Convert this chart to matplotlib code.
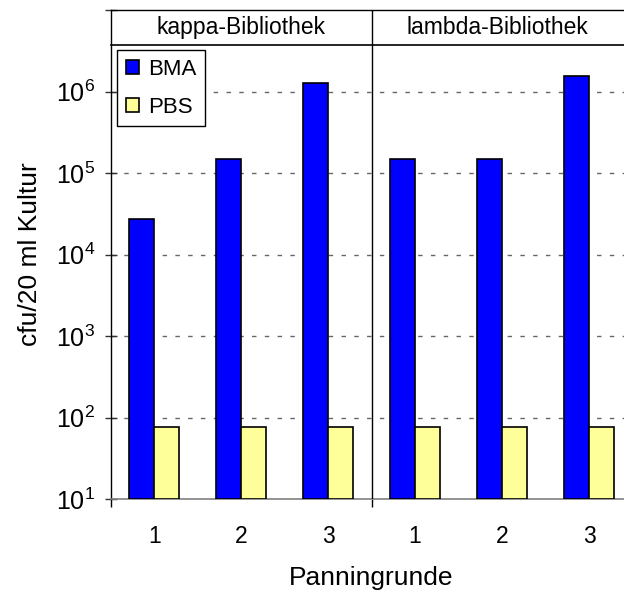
import matplotlib
matplotlib.use("Agg")
import matplotlib.pyplot as plt
import numpy as np
from matplotlib.ticker import FixedLocator, FixedFormatter, NullLocator

plt.rcParams['font.family'] = ['Liberation Sans', 'DejaVu Sans']
plt.rcParams['mathtext.fontset'] = 'custom'
plt.rcParams['mathtext.rm'] = 'Liberation Sans'
plt.rcParams['mathtext.it'] = 'Liberation Sans'
plt.rcParams['mathtext.bf'] = 'Liberation Sans'

# Data
libraries = ["kappa-Bibliothek", "lambda-Bibliothek"]
rounds = ["1", "2", "3"]
bma_kappa = [2.7e4, 1.5e5, 1.28e6]
bma_lambda = [1.5e5, 1.5e5, 1.54e6]
pbs_kappa = [76, 76, 76]
pbs_lambda = [76, 76, 76]
series_names = ["BMA", "PBS"]
ytick_values = [1e1, 1e2, 1e3, 1e4, 1e5, 1e6, 1e7]
ytick_labels = [r"$10^{1}$", r"$10^{2}$", r"$10^{3}$", r"$10^{4}$",
                r"$10^{5}$", r"$10^{6}$", ""]
y_floor = 10

bma = np.array(bma_kappa + bma_lambda, dtype=float)
pbs = np.array(pbs_kappa + pbs_lambda, dtype=float)

W, H, DPI = 624, 594, 100
fig = plt.figure(figsize=(W / DPI, H / DPI), dpi=DPI)
ax_left, ax_right, ax_top, ax_bot = 110.7, 632.5, 10.0, 499.0
ax_w, ax_h = ax_right - ax_left, ax_bot - ax_top
ax = fig.add_axes([ax_left / W, (H - ax_bot) / H, ax_w / W, ax_h / H])

FS = 16
n_cat = len(bma)
centers = np.arange(n_cat) + 0.5
bw = 0.29

ax.set_yscale("log")
ax.set_xlim(0, n_cat)
ax.set_ylim(ytick_values[0], ytick_values[-1])

ax.bar(centers, bma - y_floor, bottom=y_floor, width=-bw, align="edge",
       color="#0000FF", edgecolor="black", linewidth=1.2, zorder=3,
       label=series_names[0])
ax.bar(centers, pbs - y_floor, bottom=y_floor, width=bw, align="edge",
       color="#FFFF99", edgecolor="black", linewidth=1.2, zorder=3,
       label=series_names[1])

# dashed gridlines
for yv in ytick_values[1:-1]:
    ax.axhline(yv, color="#666666", linewidth=1.0, dashes=(3.2, 6.0), zorder=1)

# spines
for s in ["top", "left"]:
    ax.spines[s].set_color("black")
    ax.spines[s].set_linewidth(1.0)
ax.spines["bottom"].set_color("#808080")
ax.spines["bottom"].set_linewidth(1.2)
ax.spines["right"].set_visible(False)

# y axis ticks
ax.yaxis.set_major_locator(FixedLocator(ytick_values))
ax.yaxis.set_major_formatter(FixedFormatter(ytick_labels))
ax.yaxis.set_minor_locator(NullLocator())
ax.tick_params(axis="y", which="major", direction="inout", length=8.6,
               width=1.0, color="#333333", labelsize=18, pad=7)

# x axis: boundary ticks + centred category labels
ax.xaxis.set_major_locator(FixedLocator([0, 3, 6]))
ax.xaxis.set_major_formatter(FixedFormatter(["", "", ""]))
ax.xaxis.set_minor_locator(FixedLocator(centers))
ax.xaxis.set_minor_formatter(FixedFormatter(rounds * 2))
ax.tick_params(axis="x", which="major", direction="out", length=5.8,
               width=1.0, color="black")
ax.tick_params(axis="x", which="minor", length=0, labelsize=16.5, pad=19)

ax.set_xlabel("Panningrunde", fontsize=19)
ax.xaxis.set_label_coords((371 - ax_left) / ax_w, -(578 - ax_bot) / ax_h)
ax.xaxis.label.set_va("center")
ax.set_ylabel("cfu/20 ml Kultur", fontsize=19)
ax.yaxis.set_label_coords(-(ax_left - 30) / ax_w, (ax_bot - 254) / ax_h)
ax.yaxis.label.set_va("center")

# library divider and header band
ax.axvline(3, color="black", linewidth=1.0, zorder=4)
band = 1 - 35.0 / ax_h
ax.plot([0, 1], [band, band], transform=ax.transAxes, color="black",
        linewidth=1.2, clip_on=False, zorder=4)
band_mid = (1 + band) / 2
ax.text(1.5, band_mid, libraries[0], transform=ax.get_xaxis_transform(),
        ha="center", va="center", fontsize=16.5)
ax.text(4.45, band_mid, libraries[1], transform=ax.get_xaxis_transform(),
        ha="center", va="center", fontsize=16.5)

leg = ax.legend(loc="upper left", bbox_to_anchor=(0.012, 1 - 40.0 / ax_h),
                borderaxespad=0, fontsize=FS, handlelength=0.6,
                handleheight=0.6, handletextpad=0.4, labelspacing=0.75,
                borderpad=0.4, fancybox=False, framealpha=1,
                edgecolor="black")
leg.get_frame().set_linewidth(1.0)
leg.set_zorder(5)

fig.savefig("out.png", dpi=DPI)
